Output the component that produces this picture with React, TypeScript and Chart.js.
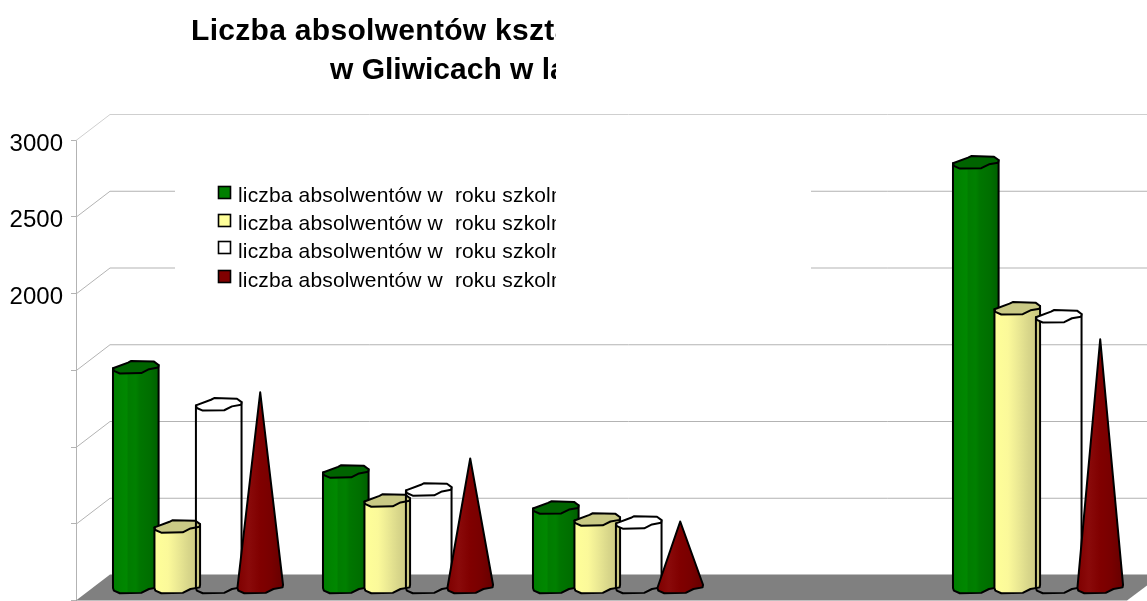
import React, { useEffect, useRef } from "react";
import { Chart, registerables } from "chart.js";

Chart.register(...registerables);

const categories = ["1", "2", "3", "4", "5"];
const seriesLabels = [
  "liczba absolwentów w  roku szkolnym",
  "liczba absolwentów w  roku szkolnym",
  "liczba absolwentów w  roku szkolnym",
  "liczba absolwentów w  roku szkolnym",
];
const seriesA = [1435, 756, 521, null, 2770];
const seriesB = [398, 567, 443, null, 1819];
const seriesC = [1193, 639, 424, null, 1767];
const seriesD = [1272, 841, 430, null, 1617];
const titleLines = ["Liczba absolwentów kształcących", "w Gliwicach w latach"];
const yTickLabels = [3000, 2500, 2000];

const FONT = '"Liberation Sans", Arial, sans-serif';
const capShape: [number, number][] = [
  [0, 0.58], [0.33, 0.13], [0.4, 0], [0.9, 0.05], [1, 0.32], [0.99, 0.53],
  [0.79, 0.66], [0.62, 0.97], [0.15, 1], [0.02, 0.79],
];
const CAP_H = 12.5;
const SHIFT_X = 17;
const SHIFT_Y = -13;
const DEPTH_X = 34;
const DEPTH_Y = -26;

type Look = { stops: [number, string][]; cap: string; marker: string };
const looks: Look[] = [
  {
    stops: [[0, "#007f00"], [0.12, "#008200"], [0.3, "#008800"], [0.34, "#007c00"], [0.5, "#008000"], [0.58, "#007600"], [0.8, "#006f00"], [1, "#005f00"]],
    cap: "#006400",
    marker: "#007f00",
  },
  {
    stops: [[0, "#ffff99"], [0.3, "#fbf99a"], [0.5, "#ecea94"], [0.75, "#d8d68a"], [1, "#c8c67e"]],
    cap: "#c9c985",
    marker: "#ffff99",
  },
  { stops: [], cap: "#ffffff", marker: "#ffffff" },
  {
    stops: [[0, "#7f0000"], [0.25, "#8a0a0a"], [0.5, "#800000"], [0.75, "#780000"], [1, "#660000"]],
    cap: "#800000",
    marker: "#800000",
  },
];

function capPath(ctx: CanvasRenderingContext2D, l: number, w: number, top: number) {
  ctx.beginPath();
  capShape.forEach(([fx, fy], i) => {
    const x = l + fx * w;
    const y = top + fy * CAP_H;
    if (i === 0) ctx.moveTo(x, y);
    else ctx.lineTo(x, y);
  });
  ctx.closePath();
}

function lowerEdge(ctx: CanvasRenderingContext2D, l: number, w: number, top: number) {
  // walks the front half of the outline from the left point to the right point
  const idx = [0, 9, 8, 7, 6, 5, 4];
  idx.forEach((k) => {
    const [fx, fy] = capShape[k];
    ctx.lineTo(l + fx * w, top + fy * CAP_H);
  });
}

function gradient(ctx: CanvasRenderingContext2D, l: number, w: number, stops: [number, string][]) {
  const g = ctx.createLinearGradient(l, 0, l + w, 0);
  stops.forEach(([p, c]) => g.addColorStop(p, c));
  return g;
}

const scene = {
  id: "scene",
  beforeDatasetsDraw(chart: any) {
    const { ctx, scales, chartArea, width } = chart;
    const y = scales.y;
    const x0 = chartArea.left;
    const base = y.getPixelForValue(0);
    ctx.save();
    // floor
    ctx.fillStyle = "#808080";
    ctx.beginPath();
    ctx.moveTo(x0, base);
    ctx.lineTo(x0 + DEPTH_X, base + DEPTH_Y);
    ctx.lineTo(width, base + DEPTH_Y);
    ctx.lineTo(width, base - 15);
    ctx.lineTo(chartArea.right + 1, base);
    ctx.closePath();
    ctx.fill();
    // wall grid
    y.ticks.forEach((t: any) => {
      if (t.value === 0) return;
      const py = y.getPixelForValue(t.value);
      const top = t.value === y.max;
      ctx.strokeStyle = top ? "#cfcfcf" : "#b3b3b3";
      ctx.lineWidth = 1;
      ctx.beginPath();
      ctx.moveTo(x0, py + 0.5);
      ctx.lineTo(x0 + DEPTH_X, py + DEPTH_Y + 0.5);
      ctx.lineTo(width, py + DEPTH_Y + 0.5);
      ctx.stroke();
    });
    // the blank legend box that hides part of the grid
    ctx.fillStyle = "#ffffff";
    ctx.fillRect(175, 178, 636, 118);
    ctx.restore();
  },
  beforeDatasetDraw() {
    return false;
  },
  afterDatasetsDraw(chart: any) {
    const { ctx } = chart;
    ctx.save();
    ctx.lineJoin = "round";
    ctx.lineWidth = 2;
    ctx.strokeStyle = "#000000";
    chart.data.datasets.forEach((ds: any, di: number) => {
      const meta = chart.getDatasetMeta(di);
      const look = looks[di];
      meta.data.forEach((el: any, i: number) => {
        if (ds.data[i] === null) return;
        const w = el.width * 1.1;
        const cx = el.x + SHIFT_X;
        const l = cx - w / 2;
        const topY = el.y + SHIFT_Y;
        const baseCenter = el.base + SHIFT_Y;
        if (di === 3) {
          const botTop = baseCenter - CAP_H / 2;
          ctx.beginPath();
          ctx.moveTo(cx, topY);
          ctx.lineTo(l, botTop + capShape[0][1] * CAP_H);
          [9, 8, 7, 6, 5, 4].forEach((k) => {
            const [fx, fy] = capShape[k];
            ctx.lineTo(l + fx * w, botTop + fy * CAP_H);
          });
          ctx.closePath();
          ctx.fillStyle = gradient(ctx, l, w, look.stops);
          ctx.fill();
          ctx.stroke();
          return;
        }
        const capTop = topY - CAP_H / 2;
        const botTop = baseCenter - CAP_H / 2;
        ctx.beginPath();
        ctx.moveTo(l + capShape[0][0] * w, capTop + capShape[0][1] * CAP_H);
        lowerEdge(ctx, l, w, botTop);
        ctx.lineTo(l + capShape[4][0] * w, capTop + capShape[4][1] * CAP_H);
        ctx.closePath();
        if (look.stops.length) {
          ctx.fillStyle = gradient(ctx, l, w, look.stops);
          ctx.fill();
        }
        ctx.stroke();
        capPath(ctx, l, w, capTop);
        ctx.fillStyle = look.cap;
        ctx.fill();
        ctx.stroke();
      });
    });
    ctx.restore();
  },
  afterDraw(chart: any) {
    const { ctx } = chart;
    ctx.save();
    ctx.beginPath();
    ctx.rect(0, 0, 556, 601);
    ctx.clip();
    ctx.fillStyle = "#000000";
    ctx.textAlign = "left";
    ctx.textBaseline = "alphabetic";
    ctx.font = `bold 30px ${FONT}`;
    (ctx as any).letterSpacing = "0.3px";
    ctx.fillText(titleLines[0], 191, 39.5);
    (ctx as any).letterSpacing = "0px";
    ctx.fillText(titleLines[1], 330, 78.5);
    const rows = [202, 230, 258, 287];
    const boxes = [186, 214, 241, 270];
    chart.data.datasets.forEach((ds: any, i: number) => {
      ctx.fillStyle = looks[i].marker;
      ctx.fillRect(218.5, boxes[i] + 0.5, 12, 12);
      ctx.strokeStyle = "#000000";
      ctx.lineWidth = 1.6;
      ctx.strokeRect(218.5, boxes[i] + 0.5, 12, 12);
      ctx.fillStyle = "#000000";
      ctx.font = `21px ${FONT}`;
      (ctx as any).letterSpacing = "0.15px";
      ctx.fillText(ds.label, 238, rows[i]);
      (ctx as any).letterSpacing = "0px";
    });
    ctx.restore();
  },
};

export default function App() {
  const ref = useRef<HTMLCanvasElement>(null);
  useEffect(() => {
    const chart = new Chart(ref.current!, {
      type: "bar",
      data: {
        labels: categories,
        datasets: [seriesA, seriesB, seriesC, seriesD].map((data, i) => ({
          label: seriesLabels[i],
          data,
          backgroundColor: looks[i].marker,
          borderColor: "#000000",
          borderWidth: 1,
          categoryPercentage: 0.79,
          barPercentage: 1,
        })),
      },
      options: {
        responsive: false,
        animation: false,
        layout: { autoPadding: false, padding: { left: 0, right: 21, top: 140, bottom: 0.5 } },
        plugins: { legend: { display: false }, title: { display: false }, tooltip: { enabled: false } },
        scales: {
          x: { display: false },
          y: {
            min: 0,
            max: 3000,
            afterFit: (s: any) => {
              s.width = 76;
              s.paddingTop = 0;
              s.paddingBottom = 0;
            },
            border: { display: true, color: "#b3b3b3" },
            grid: { drawOnChartArea: false, color: "#b3b3b3", tickLength: 5 },
            ticks: {
              stepSize: 500,
              padding: 8,
              labelOffset: 4,
              color: "#000000",
              font: { family: FONT, size: 24 },
              callback: (v: any) => (yTickLabels.includes(Number(v)) ? String(v) : ""),
            },
          },
        },
      },
      plugins: [scene],
    } as any);
    return () => chart.destroy();
  }, []);
  return (
    <div style={{ position: "absolute", left: 0, top: 0, width: 1147, height: 601, overflow: "hidden", background: "#fff" }}>
      <canvas ref={ref} width={1147} height={601} style={{ display: "block" }} />
    </div>
  );
}
